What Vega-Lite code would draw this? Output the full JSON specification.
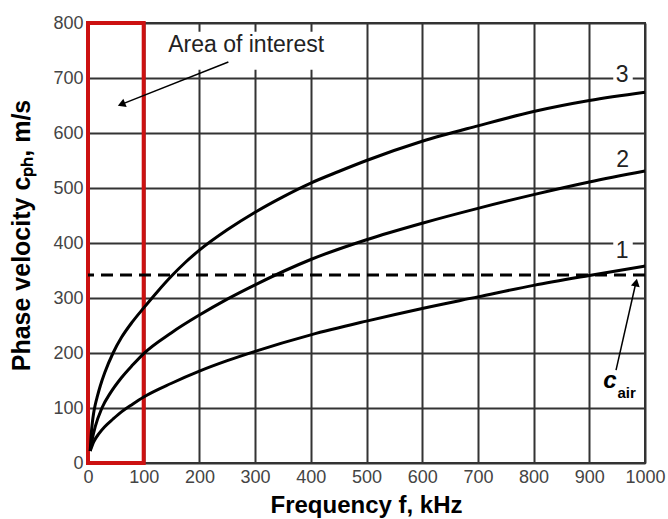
{
  "$schema": "https://vega.github.io/schema/vega-lite/v6.json",
  "width": 557,
  "height": 440,
  "autosize": {"type": "none"},
  "padding": {"left": 88, "top": 23, "right": 23, "bottom": 56},
  "background": "white",
  "config": {
    "view": {"stroke": "#333333", "strokeWidth": 2},
    "font": "Liberation Sans"
  },
  "datasets": {
    "curves": [
      {"s": "3", "f": 4, "v": 22}, {"s": "3", "f": 6, "v": 55}, {"s": "3", "f": 8, "v": 75}, {"s": "3", "f": 10, "v": 90},
      {"s": "3", "f": 13, "v": 106}, {"s": "3", "f": 17, "v": 122}, {"s": "3", "f": 22, "v": 140}, {"s": "3", "f": 30, "v": 164},
      {"s": "3", "f": 45, "v": 200}, {"s": "3", "f": 60, "v": 228}, {"s": "3", "f": 80, "v": 257}, {"s": "3", "f": 100, "v": 282},
      {"s": "3", "f": 125, "v": 312}, {"s": "3", "f": 150, "v": 340}, {"s": "3", "f": 175, "v": 365}, {"s": "3", "f": 200, "v": 387},
      {"s": "3", "f": 250, "v": 424}, {"s": "3", "f": 300, "v": 456}, {"s": "3", "f": 350, "v": 484}, {"s": "3", "f": 400, "v": 509},
      {"s": "3", "f": 450, "v": 530}, {"s": "3", "f": 500, "v": 550}, {"s": "3", "f": 600, "v": 585}, {"s": "3", "f": 700, "v": 613},
      {"s": "3", "f": 800, "v": 639}, {"s": "3", "f": 900, "v": 659}, {"s": "3", "f": 1000, "v": 674},
      {"s": "2", "f": 4, "v": 22}, {"s": "2", "f": 8, "v": 45}, {"s": "2", "f": 13, "v": 66}, {"s": "2", "f": 25, "v": 100},
      {"s": "2", "f": 40, "v": 127}, {"s": "2", "f": 60, "v": 155}, {"s": "2", "f": 80, "v": 178}, {"s": "2", "f": 100, "v": 199},
      {"s": "2", "f": 150, "v": 237}, {"s": "2", "f": 200, "v": 269}, {"s": "2", "f": 250, "v": 298}, {"s": "2", "f": 300, "v": 324},
      {"s": "2", "f": 400, "v": 370}, {"s": "2", "f": 500, "v": 406}, {"s": "2", "f": 600, "v": 436}, {"s": "2", "f": 700, "v": 463},
      {"s": "2", "f": 800, "v": 488}, {"s": "2", "f": 900, "v": 511}, {"s": "2", "f": 1000, "v": 531},
      {"s": "1", "f": 4, "v": 22}, {"s": "1", "f": 10, "v": 38}, {"s": "1", "f": 20, "v": 54}, {"s": "1", "f": 30, "v": 66},
      {"s": "1", "f": 45, "v": 80}, {"s": "1", "f": 60, "v": 93}, {"s": "1", "f": 80, "v": 107}, {"s": "1", "f": 100, "v": 120},
      {"s": "1", "f": 150, "v": 145}, {"s": "1", "f": 200, "v": 167}, {"s": "1", "f": 250, "v": 186}, {"s": "1", "f": 300, "v": 203},
      {"s": "1", "f": 400, "v": 233}, {"s": "1", "f": 500, "v": 258}, {"s": "1", "f": 600, "v": 281}, {"s": "1", "f": 700, "v": 302},
      {"s": "1", "f": 800, "v": 323}, {"s": "1", "f": 900, "v": 341}, {"s": "1", "f": 1000, "v": 358}
    ],
    "masks": [
      {"f": 150, "f2": 470, "v": 715, "v2": 784},
      {"f": 943, "f2": 978, "v": 690, "v2": 720},
      {"f": 943, "f2": 978, "v": 370, "v2": 405}
    ],
    "box": [{"f": 0, "f2": 100, "v": 0, "v2": 800}],
    "air": [{"v": 342}],
    "arrows": [
      {"f": 252, "v": 729, "f2": 62, "v2": 653},
      {"f": 948, "v": 169, "f2": 983, "v2": 325}
    ],
    "heads": [
      {"f": 60, "v": 652, "a": 248},
      {"f": 984, "v": 328, "a": 12}
    ],
    "labels": [
      {"f": 959, "v": 705, "t": "3"},
      {"f": 960, "v": 551, "t": "2"},
      {"f": 959, "v": 385, "t": "1"},
      {"f": 284, "v": 760, "t": "Area of interest"}
    ]
  },
  "layer": [
    {
      "data": {"name": "masks"},
      "mark": {"type": "rect", "fill": "white", "strokeWidth": 0},
      "encoding": {
        "x": {
          "field": "f", "type": "quantitative",
          "scale": {"domain": [0, 1000], "nice": false},
          "axis": {
            "values": [0, 100, 200, 300, 400, 500, 600, 700, 800, 900, 1000],
            "format": "d", "labelOverlap": false, "labelFlush": false,
            "grid": true, "gridColor": "#333333", "gridWidth": 2, "gridOpacity": 1,
            "ticks": false, "domain": false,
            "labelFontSize": 18, "labelColor": "#444444", "labelPadding": 5,
            "labelFont": "Liberation Sans",
            "title": "Frequency f, kHz",
            "titleFont": "Liberation Sans", "titleFontSize": 24, "titleFontWeight": "bold", "titleColor": "black",
            "titleX": 278, "titleY": 42, "titleBaseline": "middle", "titleAlign": "center"
          }
        },
        "x2": {"field": "f2"},
        "y": {
          "field": "v", "type": "quantitative",
          "scale": {"domain": [0, 800], "nice": false},
          "axis": {
            "values": [0, 100, 200, 300, 400, 500, 600, 700, 800],
            "format": "d", "labelOverlap": false, "labelFlush": false,
            "grid": true, "gridColor": "#333333", "gridWidth": 2, "gridOpacity": 1,
            "ticks": false, "domain": false,
            "labelFontSize": 18, "labelColor": "#444444", "labelPadding": 5,
            "labelFont": "Liberation Sans",
            "title": "Phase velocity cₚₕ, m/s",
            "titleFont": "Liberation Sans", "titleFontSize": 25, "titleFontWeight": "bold", "titleColor": "black",
            "titleX": -67, "titleY": 212, "titleAngle": -90, "titleBaseline": "middle", "titleAlign": "center"
          }
        },
        "y2": {"field": "v2"}
      }
    },
    {
      "data": {"name": "box"},
      "mark": {"type": "rect", "filled": false, "stroke": "#cc1111", "strokeWidth": 4},
      "encoding": {
        "x": {"field": "f", "type": "quantitative"},
        "x2": {"field": "f2"},
        "y": {"field": "v", "type": "quantitative"},
        "y2": {"field": "v2"}
      }
    },
    {
      "data": {"name": "air"},
      "mark": {"type": "rule", "stroke": "black", "strokeWidth": 3, "strokeDash": [12, 7]},
      "encoding": {
        "y": {"field": "v", "type": "quantitative"}
      }
    },
    {
      "data": {"name": "curves"},
      "mark": {"type": "line", "stroke": "black", "strokeWidth": 3, "interpolate": "monotone"},
      "encoding": {
        "x": {"field": "f", "type": "quantitative"},
        "y": {"field": "v", "type": "quantitative"},
        "detail": {"field": "s"}
      }
    },
    {
      "data": {"name": "arrows"},
      "mark": {"type": "rule", "stroke": "black", "strokeWidth": 1.5},
      "encoding": {
        "x": {"field": "f", "type": "quantitative"},
        "x2": {"field": "f2"},
        "y": {"field": "v", "type": "quantitative"},
        "y2": {"field": "v2"}
      }
    },
    {
      "data": {"name": "heads"},
      "mark": {"type": "point", "shape": "triangle-up", "filled": true, "fill": "black", "stroke": null, "size": 80, "opacity": 1},
      "encoding": {
        "x": {"field": "f", "type": "quantitative"},
        "y": {"field": "v", "type": "quantitative"},
        "angle": {"field": "a", "type": "quantitative", "scale": null}
      }
    },
    {
      "data": {"name": "labels"},
      "mark": {"type": "text", "font": "Liberation Sans", "fontSize": 23, "color": "#222222", "align": "center", "baseline": "middle"},
      "encoding": {
        "x": {"field": "f", "type": "quantitative"},
        "y": {"field": "v", "type": "quantitative"},
        "text": {"field": "t"}
      }
    },
    {
      "data": {"values": [{"f": 937, "v": 150, "t": "c"}]},
      "mark": {"type": "text", "font": "Liberation Sans", "fontSize": 24, "fontWeight": "bold", "fontStyle": "italic", "color": "black", "align": "center", "baseline": "middle"},
      "encoding": {
        "x": {"field": "f", "type": "quantitative"},
        "y": {"field": "v", "type": "quantitative"},
        "text": {"field": "t"}
      }
    },
    {
      "data": {"values": [{"f": 967, "v": 128, "t": "air"}]},
      "mark": {"type": "text", "font": "Liberation Sans", "fontSize": 15, "fontWeight": "bold", "color": "black", "align": "center", "baseline": "middle"},
      "encoding": {
        "x": {"field": "f", "type": "quantitative"},
        "y": {"field": "v", "type": "quantitative"},
        "text": {"field": "t"}
      }
    }
  ]
}
